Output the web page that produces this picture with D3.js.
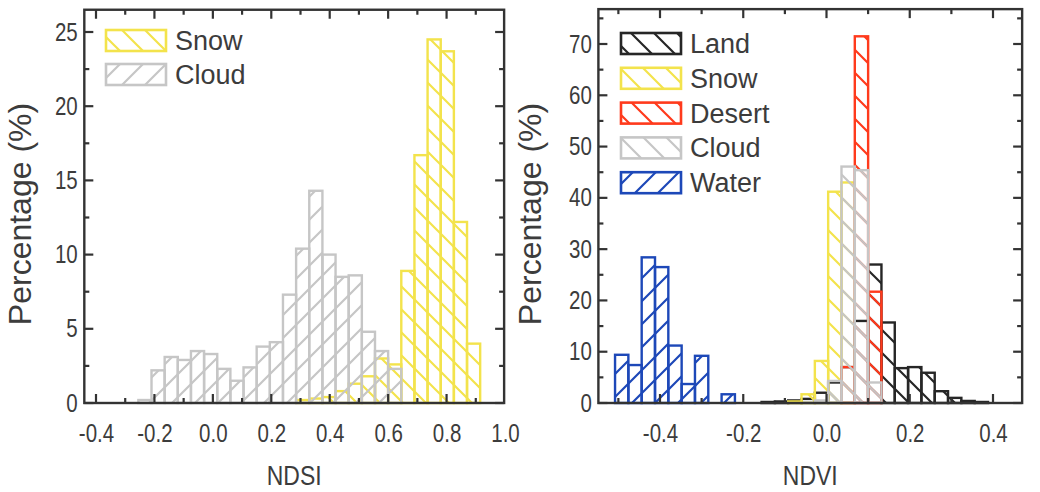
<!DOCTYPE html>
<html>
<head>
<meta charset="utf-8">
<script src="https://d3js.org/d3.v7.min.js"></script>
<style>
  body { margin: 0; background: #fff; }
  text { font-family: "Liberation Sans", Arial, sans-serif; fill: #3c3c3c; }
</style>
</head>
<body>
<div id="my_dataviz"></div>
<script>
var width = 1040
var height = 492

// NDSI histogram (left panel), bin left edges and percentages
var ndsiBinWidth = 0.045
var ndsiBins = [-0.255, -0.21, -0.165, -0.12, -0.075, -0.03, 0.015, 0.06, 0.105, 0.15, 0.195, 0.24, 0.285,
                0.33, 0.375, 0.42, 0.465, 0.51, 0.555, 0.6, 0.645, 0.69, 0.735, 0.78, 0.825, 0.87]
var ndsiSnow = [0, 0, 0, 0, 0, 0, 0, 0, 0, 0, 0, 0, 0.2,
                0.3, 0.4, 0.8, 1.3, 1.8, 3.0, 2.6, 8.9, 16.7, 24.5, 23.7, 12.2, 4.0]
var ndsiCloud = [0.2, 2.2, 3.1, 2.9, 3.5, 3.3, 2.3, 1.5, 2.4, 3.8, 4.1, 7.3, 10.4,
                 14.3, 10.0, 8.5, 8.6, 4.8, 3.5, 2.3, 0, 0, 0, 0, 0, 0]
var ndsiTicks = [-0.4, -0.2, 0.0, 0.2, 0.4, 0.6, 0.8, 1.0]
var ndsiYTicks = [0, 5, 10, 15, 20, 25]

// NDVI histogram (right panel)
var ndviBinWidth = 0.032
var ndviBins = [-0.508, -0.476, -0.444, -0.412, -0.38, -0.348, -0.316, -0.284, -0.252, -0.22, -0.188, -0.156, -0.124, -0.092,
                -0.06, -0.028, 0.004, 0.036, 0.068, 0.1, 0.132, 0.164, 0.196, 0.228, 0.26, 0.292, 0.324, 0.356]
var ndviLand = [0, 0, 0, 0, 0, 0, 0, 0, 0, 0, 0, 0.2, 0.3, 0.5,
                0.8, 2.0, 4.0, 7.0, 16.0, 27.0, 15.7, 6.8, 7.0, 5.9, 2.3, 1.0, 0.4, 0.2]
var ndviSnow = [0, 0, 0, 0, 0, 0, 0, 0, 0, 0, 0, 0, 0, 0.3,
                1.7, 8.2, 41.2, 43.0, 0, 0, 0, 0, 0, 0, 0, 0, 0, 0]
var ndviDesert = [0, 0, 0, 0, 0, 0, 0, 0, 0, 0, 0, 0, 0, 0,
                  0, 0, 0, 7.0, 71.5, 21.7, 0, 0, 0, 0, 0, 0, 0, 0]
var ndviCloud = [0, 0, 0, 0, 0, 0, 0, 0, 0, 0, 0, 0, 0, 0,
                 0, 0.5, 4.3, 46.1, 45.4, 4.0, 0, 0, 0, 0, 0, 0, 0, 0]
var ndviWater = [9.4, 7.4, 28.4, 26.5, 11.2, 3.7, 9.2, 0, 1.7, 0, 0, 0, 0, 0,
                 0, 0, 0, 0, 0, 0, 0, 0, 0, 0, 0, 0, 0, 0]
var ndviTicks = [-0.4, -0.2, 0.0, 0.2, 0.4]
var ndviYTicks = [0, 10, 20, 30, 40, 50, 60, 70]

var colors = { Land: "#262626", Snow: "#f3e34c", Desert: "#ff3a1c", Cloud: "#c6c6c6", Water: "#1d48b8" }

// the reference text is a bit narrow, squeeze it horizontally
var squeeze = 0.82

var svg = d3.select("#my_dataviz")
    .append("svg")
    .attr("width", width)
    .attr("height", height)

var defs = svg.append("defs")

// hatch patterns: "\" goes down-right, "/" goes up-right
function hatch(id, color, dir) {
    var p = defs.append("pattern")
        .attr("id", id)
        .attr("patternUnits", "userSpaceOnUse")
        .attr("width", 23)
        .attr("height", 23)
    var d = dir == "\\"
        ? "M0,0 L23,23 M-5,18 L5,28 M18,-5 L28,5"
        : "M0,23 L23,0 M-5,5 L5,-5 M18,28 L28,18"
    p.append("path")
        .attr("d", d)
        .attr("stroke", color)
        .attr("stroke-width", 2.2)
}

function fmt(v) {
    // plain hyphen like the original, not the unicode minus
    return v.toFixed(1)
}

function panel(o) {
    var x = d3.scaleLinear().domain(o.xDom).range(o.xRange)
    var y = d3.scaleLinear().domain(o.yDom).range(o.yRange)
    var g = svg.append("g")

    var x0 = x(o.xLim[0]), x1 = x(o.xLim[1])
    var y0 = y(0), y1 = y(o.yMax)

    // the bars, one group per series
    o.series.forEach(function (s) {
        var pid = o.id + "_" + s.name
        hatch(pid, colors[s.name], s.dir)
        var rows = o.bins.map(function (b, i) { return { b: b, v: s.values[i] } })
            .filter(function (r) { return r.v > 0 })
        g.append("g")
            .selectAll("rect")
            .data(rows)
            .enter()
            .append("rect")
            .attr("x", function (d) { return x(d.b) })
            .attr("width", function (d) { return x(d.b + o.binWidth) - x(d.b) })
            .attr("y", function (d) { return y(d.v) })
            .attr("height", function (d) { return y0 - y(d.v) })
            .attr("fill", "url(#" + pid + ")")
            .attr("stroke", colors[s.name])
            .attr("stroke-width", 2.4)
    })

    // axes, ticks inward on all four sides
    var xMinor = d3.range(o.xTicks[0] - o.xStep, o.xLim[1] + 1e-9, o.xStep / 2)
        .filter(function (v) { return v > o.xLim[0] && v < o.xLim[1] + 1e-9 })
    var yMinor = d3.range(0, o.yMax, o.yStep / 2)

    var bottom = d3.axisBottom(x).tickValues(o.xTicks).tickSize(0).tickPadding(21)
        .tickFormat(fmt)
    g.append("g").attr("transform", "translate(0," + y0 + ")").call(bottom)
        .call(function (a) { a.select(".domain").remove() })
        .selectAll("text")
        .style("font-size", "25px")
        .attr("fill", "#3c3c3c")
        .attr("transform", "scale(" + squeeze + ",1)")

    var left = d3.axisLeft(y).tickValues(o.yTicks).tickSize(0).tickPadding(8)
        .tickFormat(d3.format("d"))
    g.append("g").attr("transform", "translate(" + x0 + ",0)").call(left)
        .call(function (a) { a.select(".domain").remove() })
        .selectAll("text")
        .style("font-size", "25px")
        .attr("fill", "#3c3c3c")
        .attr("transform", "scale(" + squeeze + ",1)")

    var tk = g.append("g").attr("stroke", "#333").attr("stroke-width", 2.2)
    xMinor.forEach(function (v) {
        var major = o.xTicks.some(function (t) { return Math.abs(t - v) < 1e-6 })
        var L = major ? 9 : 5
        tk.append("line").attr("x1", x(v)).attr("x2", x(v)).attr("y1", y0).attr("y2", y0 - L)
        tk.append("line").attr("x1", x(v)).attr("x2", x(v)).attr("y1", y1).attr("y2", y1 + L)
    })
    yMinor.forEach(function (v) {
        var major = o.yTicks.indexOf(v) >= 0
        var L = major ? 9 : 5
        tk.append("line").attr("x1", x0).attr("x2", x0 + L).attr("y1", y(v)).attr("y2", y(v))
        tk.append("line").attr("x1", x1).attr("x2", x1 - L).attr("y1", y(v)).attr("y2", y(v))
    })

    // frame
    g.append("rect")
        .attr("x", x0).attr("y", y1)
        .attr("width", x1 - x0).attr("height", y0 - y1)
        .attr("fill", "none")
        .attr("stroke", "#333")
        .attr("stroke-width", 2.4)

    // legend
    var lg = g.append("g")
    o.series.forEach(function (s, i) {
        var cy = o.legendY + i * o.legendGap
        lg.append("rect")
            .attr("x", o.legendX).attr("y", cy - 10)
            .attr("width", 60).attr("height", 21)
            .attr("fill", "url(#" + o.id + "_" + s.name + ")")
            .attr("stroke", colors[s.name])
            .attr("stroke-width", 2.6)
        lg.append("text")
            .attr("x", o.legendX + 69).attr("y", cy + 10)
            .style("font-size", "27px")
            .text(s.name)
    })

    // axis titles
    g.append("text")
        .attr("transform", "translate(" + (x0 + x1) / 2 + ",485) scale(" + squeeze + ",1)")
        .attr("text-anchor", "middle")
        .style("font-size", "28px")
        .text(o.xTitle)
    g.append("text")
        .attr("transform", "translate(" + o.yTitleX + ",214) rotate(-90)")
        .attr("text-anchor", "middle")
        .style("font-size", "32px")
        .text("Percentage (%)")
}

panel({
    id: "ndsi",
    xDom: [-0.4, 1.0], xRange: [96, 505], xLim: [-0.44, 0.997],
    yDom: [0, 25], yRange: [403, 32], yMax: 26.5,
    xTicks: ndsiTicks, xStep: 0.2, yTicks: ndsiYTicks, yStep: 5,
    bins: ndsiBins, binWidth: ndsiBinWidth,
    series: [
        { name: "Snow", values: ndsiSnow, dir: "\\" },
        { name: "Cloud", values: ndsiCloud, dir: "/" }
    ],
    legendX: 106, legendY: 40, legendGap: 34,
    xTitle: "NDSI", yTitleX: 31
})

panel({
    id: "ndvi",
    xDom: [-0.4, 0.4], xRange: [660, 993], xLim: [-0.548, 0.47],
    yDom: [0, 70], yRange: [403, 44], yMax: 76.8,
    xTicks: ndviTicks, xStep: 0.2, yTicks: ndviYTicks, yStep: 10,
    bins: ndviBins, binWidth: ndviBinWidth,
    series: [
        { name: "Land", values: ndviLand, dir: "\\" },
        { name: "Snow", values: ndviSnow, dir: "\\" },
        { name: "Desert", values: ndviDesert, dir: "\\" },
        { name: "Cloud", values: ndviCloud, dir: "\\" },
        { name: "Water", values: ndviWater, dir: "/" }
    ],
    legendX: 621, legendY: 43, legendGap: 34.8,
    xTitle: "NDVI", yTitleX: 541
})
</script>
</body>
</html>
